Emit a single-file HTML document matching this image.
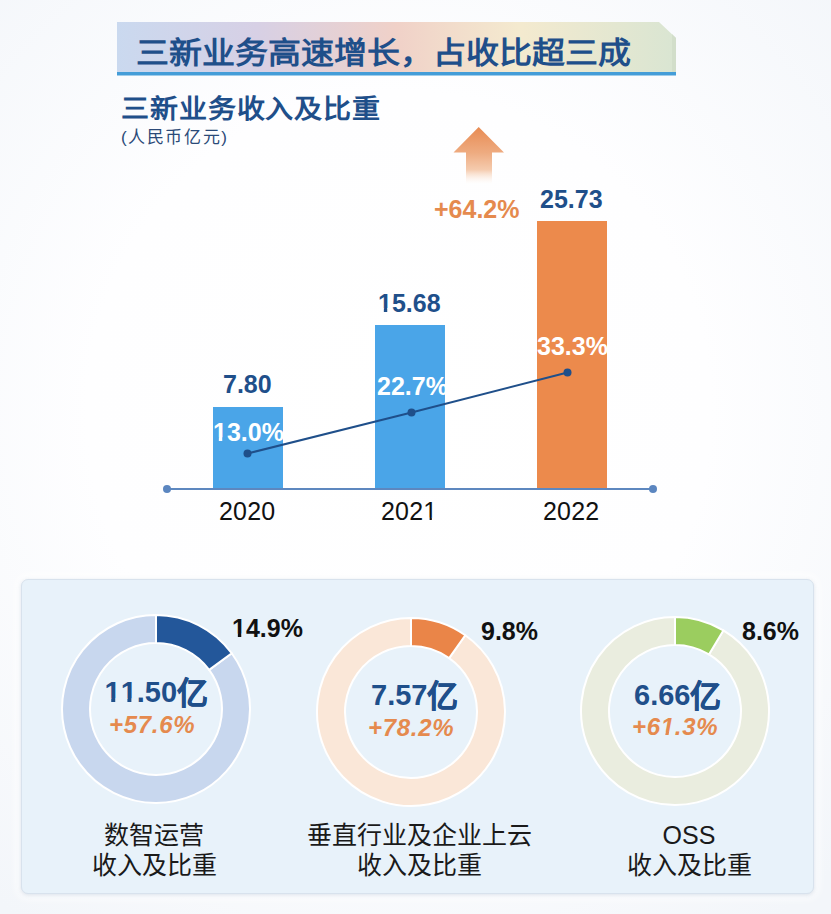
<!DOCTYPE html>
<html lang="zh-CN"><head><meta charset="utf-8">
<style>
html,body{margin:0;padding:0;}
body{width:831px;height:914px;position:relative;overflow:hidden;background:radial-gradient(ellipse 75% 70% at 48% 45%, #ffffff 0%, #fefeff 50%, #f3f6fa 100%);font-family:"Liberation Sans",sans-serif;}
.a{position:absolute;white-space:nowrap;line-height:1;}
.b{font-weight:bold;}
.o1{display:inline-block;clip-path:polygon(-1em -1em,2em -1em,2em 0.71em,0.3706em 0.71em,0.3706em 2em,0.2334em 2em,0.2334em 0.71em,-1em 0.71em);}
.o1r{display:inline-block;clip-path:polygon(-1em -1em,2em -1em,2em 0.745em,0.3398em 0.745em,0.3398em 2em,0.2515em 2em,0.2515em 0.745em,-1em 0.745em);}
.o1i{display:inline-block;clip-path:polygon(-1em -1em,2em -1em,2em 0.70em,0.3488em 0.70em,0.3228em 0.8465em,0.3228em 2em,0.1855em 2em,0.1855em 0.8465em,0.2115em 0.70em,-1em 0.70em);}
</style></head><body>
<!-- banner -->
<svg class="a" style="left:0;top:0" width="831" height="120">
<defs>
<linearGradient id="bg" x1="0" y1="0" x2="1" y2="0">
<stop offset="0" stop-color="#cad9ef"/>
<stop offset="0.25" stop-color="#d7d0e5"/>
<stop offset="0.5" stop-color="#f0d1c8"/>
<stop offset="0.72" stop-color="#f4eacf"/>
<stop offset="1" stop-color="#d9e5d2"/>
</linearGradient>
</defs>
<polygon points="117,22 659,22 676,38 676,74 117,74" fill="url(#bg)"/>
<polygon points="672,34 676,38 676,72 672,72" fill="#cfdcc8" opacity="0.8"/>
<rect x="117" y="72" width="559" height="3.5" fill="#449dd8"/>
</svg>
<div class="a b" style="left:136px;top:37.5px;font-size:33px;color:#1f4f8a;transform:scaleY(0.91);transform-origin:0 0;">三新业务高速增长，占收比超三成</div>
<div class="a b" style="left:121px;top:96.5px;font-size:28px;letter-spacing:0.9px;color:#1f4f8a;transform:scaleY(0.92);transform-origin:0 0;">三新业务收入及比重</div>
<div class="a" style="left:121px;top:129px;font-size:17px;letter-spacing:1.6px;color:#2b4a78;">(人民币亿元)</div>

<!-- arrow -->
<svg class="a" style="left:440px;top:120px" width="80" height="70">
<defs><linearGradient id="ag" x1="0" y1="0" x2="0" y2="1">
<stop offset="0" stop-color="#e88b53"/>
<stop offset="0.45" stop-color="#eeab80"/>
<stop offset="0.75" stop-color="#f5cbae"/>
<stop offset="1" stop-color="#ffffff" stop-opacity="0.3"/>
</linearGradient></defs>
<polygon points="38.7,7 64,32.5 52,32.5 52,64 26,64 26,32.5 13.5,32.5" fill="url(#ag)"/>
</svg>
<div class="a b" style="left:434px;top:197px;font-size:25px;color:#e58a4e;">+64.2%</div>

<!-- bars -->
<div class="a" style="left:213px;top:407px;width:70px;height:81px;background:#4aa5e8;"></div>
<div class="a" style="left:375px;top:325px;width:70px;height:163px;background:#4aa5e8;"></div>
<div class="a" style="left:537px;top:221px;width:70px;height:267px;background:#ec8a4c;"></div>

<div class="a b" style="left:223px;top:372px;font-size:25px;color:#1f4f8a;">7.80</div>
<div class="a b" style="left:378px;top:290.5px;font-size:25px;color:#1f4f8a;"><span class="o1">1</span>5.68</div>
<div class="a b" style="left:540px;top:186.5px;font-size:25px;color:#1f4f8a;">25.73</div>

<svg class="a" style="left:0;top:0" width="831" height="540">
<line x1="167" y1="489" x2="653" y2="489" stroke="#5d87bf" stroke-width="2.2"/>
<circle cx="167" cy="489" r="4" fill="#5b86c0"/>
<circle cx="653" cy="489" r="4" fill="#5b86c0"/>
</svg>

<div class="a b" style="left:213px;top:419px;font-size:25px;color:#fff;transform:scaleY(1.04);transform-origin:0 0;"><span class="o1">1</span>3.0%</div>
<div class="a b" style="left:377px;top:373px;font-size:25px;color:#fff;transform:scaleY(1.04);transform-origin:0 0;">22.7%</div>
<div class="a b" style="left:537px;top:333px;font-size:25px;color:#fff;transform:scaleY(1.04);transform-origin:0 0;">33.3%</div>

<svg class="a" style="left:0;top:0" width="831" height="540">
<polyline points="247.5,453.5 411.5,412.5 567.5,372.5" fill="none" stroke="#1f4f8a" stroke-width="2"/>
<circle cx="247.5" cy="453.5" r="4" fill="#1f4f8a"/>
<circle cx="411.5" cy="412.5" r="4" fill="#1f4f8a"/>
<circle cx="567.5" cy="372.5" r="4" fill="#1f4f8a"/>
</svg>

<div class="a" style="left:219px;top:499px;font-size:25px;letter-spacing:0.2px;color:#111;">2020</div>
<div class="a" style="left:381px;top:499px;font-size:25px;letter-spacing:0.2px;color:#111;">202<span class="o1r">1</span></div>
<div class="a" style="left:543px;top:499px;font-size:25px;letter-spacing:0.2px;color:#111;">2022</div>

<!-- panel -->
<div class="a" style="left:21px;top:579px;width:793px;height:315px;background:#e8f2fa;border-radius:7px;border:1px solid #d8e2ed;box-sizing:border-box;box-shadow:0 1px 4px rgba(140,160,185,0.30), 0 0 10px 4px rgba(255,255,255,0.9);"></div>

<svg class="a" style="left:0;top:560px" width="831" height="354" viewBox="0 560 831 354">
<path d="M231.70,653.27A94,94 0 1 1 156.00,615.00L156.00,643.00A66,66 0 1 0 209.15,669.87Z" fill="#c8d7ee" stroke="#fff" stroke-width="2"/>
<path d="M156.00,615.00A94,94 0 0 1 231.70,653.27L209.15,669.87A66,66 0 0 0 156.00,643.00Z" fill="#23579a" stroke="#fff" stroke-width="2"/>
<path d="M465.29,635.26A94,94 0 1 1 411.00,618.00L411.00,646.00A66,66 0 1 0 449.12,658.12Z" fill="#fae7d8" stroke="#fff" stroke-width="2"/>
<path d="M411.00,618.00A94,94 0 0 1 465.29,635.26L449.12,658.12A66,66 0 0 0 411.00,646.00Z" fill="#ea8548" stroke="#fff" stroke-width="2"/>
<path d="M723.36,630.39A94,94 0 1 1 675.00,617.00L675.00,645.00A66,66 0 1 0 708.95,654.40Z" fill="#eaeddf" stroke="#fff" stroke-width="2"/>
<path d="M675.00,617.00A94,94 0 0 1 723.36,630.39L708.95,654.40A66,66 0 0 0 675.00,645.00Z" fill="#9bcd5f" stroke="#fff" stroke-width="2"/>
</svg>

<div class="a b" style="left:104.5px;top:676px;font-size:29px;color:#1f4f8a;"><span class="o1">1</span><span class="o1">1</span>.50<span style="font-size:31px;position:relative;top:2px;-webkit-text-stroke:0.5px #1f4f8a;">亿</span></div>
<div class="a b" style="left:109px;top:713px;font-size:24px;letter-spacing:0.7px;color:#e58a4e;font-style:italic;">+57.6%</div>
<div class="a b" style="left:371px;top:679px;font-size:29px;color:#1f4f8a;">7.57<span style="font-size:31px;position:relative;top:2px;-webkit-text-stroke:0.5px #1f4f8a;">亿</span></div>
<div class="a b" style="left:368px;top:716px;font-size:24px;letter-spacing:0.7px;color:#e58a4e;font-style:italic;">+78.2%</div>
<div class="a b" style="left:634px;top:679px;font-size:29px;color:#1f4f8a;">6.66<span style="font-size:31px;position:relative;top:2px;-webkit-text-stroke:0.5px #1f4f8a;">亿</span></div>
<div class="a b" style="left:632px;top:715px;font-size:24px;letter-spacing:0.7px;color:#e58a4e;font-style:italic;">+6<span class="o1i">1</span>.3%</div>

<div class="a b" style="left:232px;top:616px;font-size:25px;color:#111;"><span class="o1">1</span>4.9%</div>
<div class="a b" style="left:481px;top:619px;font-size:25px;color:#111;">9.8%</div>
<div class="a b" style="left:742px;top:619px;font-size:25px;color:#111;">8.6%</div>

<div class="a" style="left:4px;top:820px;width:300px;text-align:center;font-size:25px;line-height:30px;color:#1a1a1a;font-weight:500;">数智运营<br>收入及比重</div>
<div class="a" style="left:269px;top:820px;width:300px;text-align:center;font-size:25px;line-height:30px;color:#1a1a1a;font-weight:500;">垂直行业及企业上云<br>收入及比重</div>
<div class="a" style="left:539px;top:820px;width:300px;text-align:center;font-size:25px;line-height:30px;color:#1a1a1a;font-weight:500;">OSS<br>收入及比重</div>
</body></html>
